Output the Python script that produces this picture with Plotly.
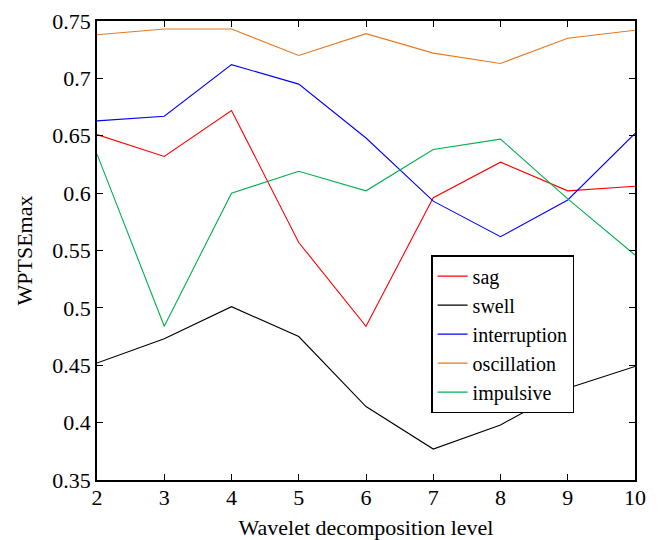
import plotly.graph_objects as go

levels = [2, 3, 4, 5, 6, 7, 8, 9, 10]
sag = [0.651, 0.632, 0.672, 0.557, 0.484, 0.596, 0.627, 0.602, 0.606]
swell = [0.452, 0.473, 0.501, 0.475, 0.414, 0.377, 0.398, 0.430, 0.449]
interruption = [0.663, 0.667, 0.712, 0.695, 0.648, 0.593, 0.562, 0.594, 0.652]
oscillation = [0.738, 0.743, 0.743, 0.720, 0.739, 0.722, 0.713, 0.735, 0.742]
impulsive = [0.634, 0.484, 0.600, 0.619, 0.602, 0.638, 0.647, 0.595, 0.546]

series_names = ["sag", "swell", "interruption", "oscillation", "impulsive"]
series_values = [sag, swell, interruption, oscillation, impulsive]
series_colors = ["#ff0000", "#000000", "#0000ff", "#e8781e", "#00b050"]

y_ticks = [0.35, 0.4, 0.45, 0.5, 0.55, 0.6, 0.65, 0.7, 0.75]
y_tick_labels = ["0.35", "0.4", "0.45", "0.5", "0.55", "0.6", "0.65", "0.7", "0.75"]

FONT = "Liberation Serif"

fig = go.Figure()
for name, vals, col in zip(series_names, series_values, series_colors):
    fig.add_trace(go.Scatter(x=levels, y=vals, mode="lines", name=name,
                             line=dict(color=col, width=1.1)))

axis_common = dict(showline=True, linecolor="black", linewidth=1.5, mirror="ticks",
                   ticks="inside", ticklen=6, tickwidth=1, tickcolor="black",
                   showgrid=False, zeroline=False, automargin=False,
                   tickfont=dict(family=FONT, size=22, color="black"))

fig.update_xaxes(range=[2, 10], tickvals=levels, ticktext=[str(v) for v in levels],
                 ticklabelstandoff=-3,
                 title=dict(text="Wavelet decomposition level", font=dict(family=FONT, size=22, color="black"), standoff=10),
                 **axis_common)
fig.update_yaxes(range=[0.35, 0.75], tickvals=y_ticks, ticktext=y_tick_labels,
                 title=dict(text="WPTSEmax", font=dict(family=FONT, size=22, color="black"), standoff=14),
                 **axis_common)

# page body has an 8px margin, so the figure is 8px smaller and margins shifted
fig.update_layout(
    width=652, height=532,
    margin=dict(l=89, r=25, t=13, b=60),
    plot_bgcolor="white", paper_bgcolor="white",
    font=dict(family=FONT, size=22, color="black"),
    legend=dict(x=0.621, y=0.49, xanchor="left", yanchor="top",
                bordercolor="black", borderwidth=1.5, bgcolor="white",
                font=dict(family=FONT, size=20, color="black"),
                tracegroupgap=0, itemwidth=30),
)

fig.write_html("out.html")
